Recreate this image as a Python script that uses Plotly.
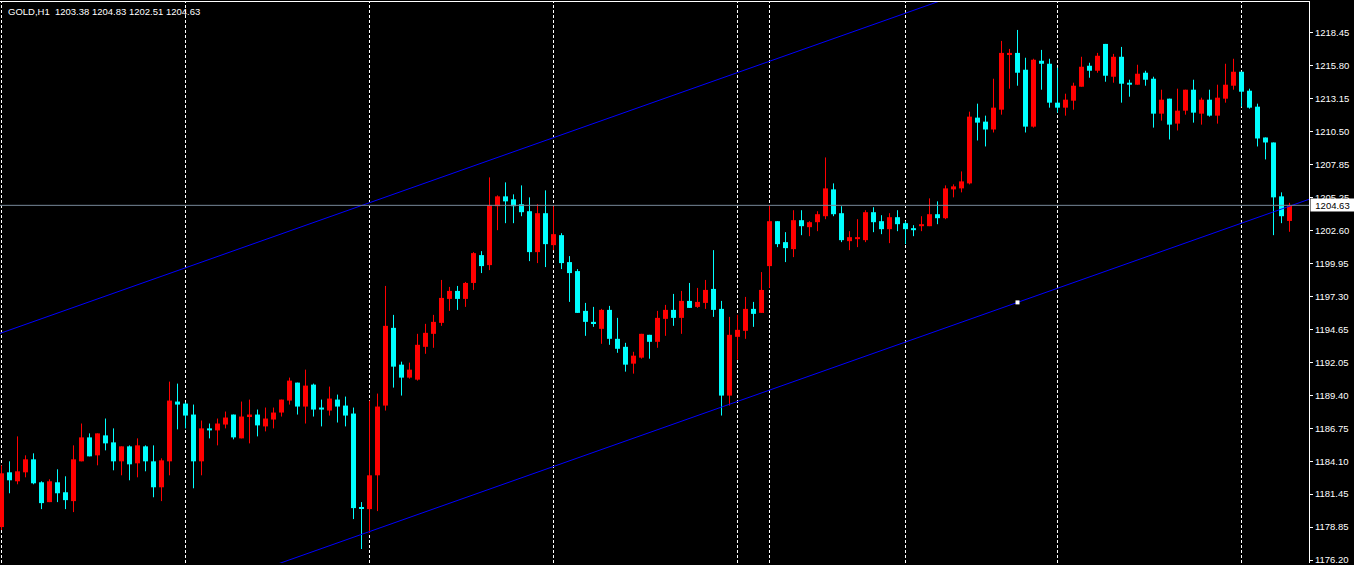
import plotly.graph_objects as go

# ---------------- data ----------------
opens = [1178.84, 1183.23, 1182.51, 1183.23, 1184.27, 1182.43, 1180.84, 1182.43, 1181.63, 1180.92,
         1184.11, 1186.03, 1184.59, 1186.19, 1185.63, 1184.11, 1185.31, 1183.95, 1185.31, 1184.11,
         1182.03, 1184.11, 1188.90, 1188.74, 1187.86, 1184.11, 1186.75, 1186.59, 1187.06, 1187.86,
         1185.95, 1187.70, 1187.86, 1186.91, 1187.46, 1188.02, 1188.98, 1190.42, 1188.50, 1190.26,
         1188.42, 1188.18, 1189.06, 1188.58, 1187.94, 1180.44, 1180.28, 1182.99, 1188.58, 1194.81,
         1191.86, 1190.82, 1190.66, 1193.29, 1194.33, 1195.21, 1197.13, 1197.77, 1197.13, 1198.41,
         1200.64, 1199.84, 1204.56, 1205.35, 1205.11, 1204.72, 1204.16, 1200.88, 1204.00, 1201.44,
         1202.24, 1200.08, 1199.36, 1196.17, 1195.29, 1194.73, 1196.25, 1193.93, 1193.29, 1191.94,
         1192.42, 1194.25, 1193.69, 1195.53, 1196.25, 1195.61, 1196.97, 1196.49, 1196.81, 1197.93,
         1196.33, 1189.38, 1194.09, 1194.57, 1196.33, 1196.01, 1199.76, 1203.36, 1201.68, 1201.12,
         1203.44, 1202.88, 1203.28, 1203.76, 1205.91, 1204.00, 1201.76, 1201.92, 1201.84, 1204.08,
         1203.36, 1202.72, 1203.68, 1203.20, 1202.80, 1202.96, 1202.96, 1203.92, 1203.60, 1205.91,
         1205.99, 1206.39, 1211.66, 1211.34, 1210.71, 1212.30, 1216.69, 1216.85, 1215.50, 1210.94,
         1216.22, 1215.98, 1212.86, 1212.46, 1213.02, 1214.14, 1215.82, 1215.42, 1217.57, 1214.94,
         1216.54, 1214.46, 1214.30, 1215.26, 1214.78, 1211.98, 1213.18, 1211.18, 1212.22, 1213.90,
         1211.98, 1213.10, 1211.82, 1213.18, 1214.22, 1215.34, 1213.82, 1212.54, 1210.07, 1209.67,
         1205.35, 1203.38]
highs = [1183.79, 1184.11, 1186.11, 1184.59, 1184.75, 1182.51, 1182.67, 1183.47, 1182.91, 1185.39,
         1187.14, 1186.35, 1186.35, 1187.54, 1186.75, 1185.31, 1185.39, 1185.95, 1185.39, 1185.39,
         1184.35, 1190.50, 1190.34, 1188.82, 1188.66, 1187.38, 1187.14, 1187.54, 1188.10, 1187.86,
         1188.90, 1189.06, 1188.26, 1188.42, 1188.42, 1189.06, 1190.82, 1190.42, 1191.46, 1190.34,
         1189.06, 1190.10, 1189.46, 1189.30, 1188.42, 1180.84, 1188.98, 1189.54, 1198.17, 1195.85,
         1192.10, 1192.02, 1194.33, 1195.13, 1195.85, 1198.65, 1198.09, 1198.17, 1198.49, 1200.88,
         1200.96, 1206.87, 1205.43, 1206.47, 1205.51, 1206.23, 1205.27, 1204.72, 1205.83, 1204.56,
         1202.40, 1200.56, 1199.52, 1196.81, 1196.49, 1196.33, 1196.57, 1195.61, 1193.61, 1192.89,
         1194.33, 1194.25, 1196.17, 1196.65, 1197.53, 1197.77, 1198.41, 1198.01, 1198.65, 1201.04,
         1196.97, 1195.69, 1195.85, 1197.29, 1196.89, 1199.28, 1204.64, 1203.36, 1202.48, 1204.24,
         1204.24, 1203.36, 1204.16, 1208.47, 1206.39, 1204.56, 1202.56, 1203.52, 1204.24, 1204.48,
         1203.84, 1204.00, 1204.24, 1203.36, 1203.04, 1203.76, 1205.19, 1204.95, 1206.23, 1206.31,
         1207.35, 1212.14, 1212.78, 1211.82, 1214.78, 1217.81, 1217.17, 1218.69, 1216.46, 1216.38,
         1217.09, 1216.38, 1215.66, 1213.58, 1214.46, 1216.54, 1216.06, 1216.85, 1217.57, 1216.77,
         1217.33, 1214.70, 1215.90, 1215.42, 1214.94, 1213.90, 1213.18, 1213.98, 1213.90, 1214.70,
         1213.26, 1213.90, 1214.30, 1215.98, 1216.38, 1215.34, 1213.98, 1212.78, 1210.07, 1209.67,
         1205.67, 1204.83]
lows = [1178.60, 1181.55, 1182.27, 1182.83, 1182.27, 1180.28, 1180.84, 1180.84, 1180.28, 1180.04,
        1184.11, 1184.51, 1183.79, 1184.99, 1183.39, 1182.99, 1182.59, 1182.83, 1183.31, 1181.23,
        1180.92, 1182.99, 1186.67, 1186.75, 1181.95, 1182.99, 1185.95, 1185.39, 1186.75, 1185.87,
        1185.95, 1185.55, 1186.11, 1186.51, 1186.75, 1187.70, 1188.66, 1187.86, 1187.14, 1187.70,
        1186.91, 1187.78, 1187.22, 1186.91, 1179.48, 1177.08, 1178.36, 1180.12, 1188.18, 1190.02,
        1189.38, 1190.74, 1190.58, 1192.73, 1193.21, 1194.97, 1196.17, 1196.25, 1196.49, 1197.85,
        1199.20, 1199.44, 1202.64, 1203.20, 1203.20, 1203.76, 1200.16, 1200.00, 1199.68, 1201.04,
        1199.52, 1196.89, 1196.01, 1194.17, 1194.89, 1193.53, 1193.45, 1192.81, 1191.30, 1191.14,
        1192.34, 1192.34, 1193.21, 1194.17, 1194.97, 1194.33, 1196.41, 1196.41, 1196.33, 1195.69,
        1187.78, 1188.58, 1192.26, 1193.93, 1194.89, 1196.01, 1198.01, 1201.28, 1200.08, 1200.48,
        1202.24, 1202.16, 1202.56, 1203.52, 1203.76, 1201.68, 1201.04, 1201.28, 1201.68, 1202.48,
        1202.32, 1201.60, 1202.56, 1201.52, 1202.16, 1202.56, 1202.96, 1203.12, 1203.52, 1205.27,
        1205.67, 1206.31, 1209.83, 1209.35, 1210.47, 1211.90, 1213.98, 1214.22, 1210.47, 1210.86,
        1213.90, 1212.46, 1212.06, 1211.82, 1212.30, 1214.14, 1214.86, 1215.26, 1214.54, 1214.46,
        1212.86, 1213.34, 1214.30, 1214.22, 1210.86, 1211.42, 1209.91, 1210.63, 1211.90, 1211.26,
        1211.10, 1211.74, 1211.18, 1212.86, 1213.90, 1212.54, 1212.38, 1209.35, 1208.31, 1202.24,
        1203.20, 1202.51]
closes = [1183.15, 1182.59, 1183.31, 1184.27, 1182.35, 1180.76, 1182.51, 1181.55, 1181.00, 1184.27,
          1186.03, 1184.51, 1186.35, 1185.55, 1184.11, 1185.31, 1183.87, 1185.39, 1184.11, 1182.03,
          1184.19, 1188.98, 1188.66, 1187.78, 1184.11, 1186.75, 1186.59, 1187.14, 1187.62, 1186.03,
          1187.70, 1187.86, 1186.99, 1187.54, 1188.02, 1189.06, 1190.58, 1188.50, 1190.18, 1188.26,
          1188.26, 1189.14, 1188.50, 1187.78, 1180.36, 1180.36, 1182.99, 1188.50, 1194.97, 1191.70,
          1190.82, 1191.46, 1193.45, 1194.41, 1195.29, 1197.21, 1197.77, 1197.13, 1198.41, 1200.80,
          1199.76, 1204.64, 1205.35, 1204.95, 1204.56, 1204.08, 1200.88, 1204.00, 1201.52, 1202.32,
          1200.00, 1199.20, 1196.01, 1195.29, 1195.13, 1196.25, 1193.93, 1193.13, 1191.86, 1192.58,
          1194.33, 1193.69, 1195.61, 1196.25, 1195.61, 1196.97, 1196.41, 1196.89, 1197.85, 1196.25,
          1189.38, 1194.25, 1194.65, 1196.33, 1195.93, 1197.85, 1203.36, 1201.52, 1201.20, 1203.44,
          1202.96, 1203.28, 1203.92, 1205.99, 1203.92, 1201.84, 1202.08, 1202.08, 1204.08, 1203.28,
          1202.72, 1203.68, 1203.12, 1202.72, 1202.64, 1203.12, 1203.92, 1203.60, 1205.99, 1206.15,
          1206.55, 1211.74, 1211.26, 1210.71, 1212.46, 1216.85, 1216.85, 1215.26, 1210.94, 1216.30,
          1215.98, 1212.86, 1212.46, 1213.10, 1214.22, 1215.74, 1215.42, 1216.62, 1215.02, 1216.54,
          1214.38, 1214.30, 1215.18, 1214.70, 1211.98, 1213.10, 1211.10, 1212.22, 1213.90, 1212.06,
          1213.10, 1211.82, 1213.26, 1214.30, 1215.34, 1213.74, 1212.46, 1209.99, 1209.67, 1205.27,
          1203.76, 1204.63]

bar_index = list(range(len(opens)))
separator_bars = [0, 23, 46, 69, 92, 96, 113, 132, 155]
y_tick_labels = ["1176.20", "1178.85", "1181.45", "1184.10", "1186.75", "1189.40", "1192.05",
                 "1194.65", "1197.30", "1199.95", "1202.60", "1205.25", "1207.85", "1210.50",
                 "1213.15", "1215.80", "1218.45"]
channel_anchor_bars = [46, 127]
channel_anchor_prices = [1178.48, 1196.85]
channel_width = 26.36
bid_price = 1204.63
header_text = "GOLD,H1  1203.38 1204.83 1202.51 1204.63"

X_RANGE = [-0.1875, 163.4375]
Y_RANGE = [1175.96, 1220.93]

UP_COLOR = "#FF0000"
DOWN_COLOR = "#00FFFF"
FONT = "Liberation Sans, Arial, sans-serif"

# ---------------- build ----------------
up = [i for i in bar_index if closes[i] >= opens[i]]
dn = [i for i in bar_index if closes[i] < opens[i]]

def wick_xy(idx):
    xs, ys = [], []
    for i in idx:
        xs += [bar_index[i], bar_index[i], None]
        ys += [highs[i], lows[i], None]
    return xs, ys

fig = go.Figure()
for idx, col in ((up, UP_COLOR), (dn, DOWN_COLOR)):
    wx, wy = wick_xy(idx)
    fig.add_trace(go.Scatter(x=wx, y=wy, mode="lines", line=dict(color=col, width=1),
                             hoverinfo="skip", showlegend=False))
for idx, col in ((up, UP_COLOR), (dn, DOWN_COLOR)):
    base = [min(opens[i], closes[i]) for i in idx]
    height = [max(abs(closes[i] - opens[i]), 0.06) for i in idx]
    fig.add_trace(go.Bar(x=[bar_index[i] for i in idx], y=height, base=base, width=0.625,
                         marker=dict(color=col, line=dict(width=0)), showlegend=False,
                         hoverinfo="skip"))

# equidistant channel (rays across the whole visible range)
slope = (channel_anchor_prices[1] - channel_anchor_prices[0]) / (channel_anchor_bars[1] - channel_anchor_bars[0])
cx = [X_RANGE[0] - 1, X_RANGE[1] + 1]
lower = [channel_anchor_prices[1] + slope * (x - channel_anchor_bars[1]) for x in cx]
upper = [v + channel_width for v in lower]
for yy in (lower, upper):
    fig.add_trace(go.Scatter(x=cx, y=yy, mode="lines", line=dict(color="#0000FF", width=1),
                             hoverinfo="skip", showlegend=False))
fig.add_trace(go.Scatter(x=[channel_anchor_bars[1]], y=[channel_anchor_prices[1]], mode="markers",
                         marker=dict(symbol="square", size=4, color="white", line=dict(width=0)),
                         hoverinfo="skip", showlegend=False))

shapes = []
for s in separator_bars:
    shapes.append(dict(type="line", xref="x", yref="paper", x0=s, x1=s, y0=0, y1=1, layer="below",
                       line=dict(color="white", width=1, dash="3px,2px")))
shapes.append(dict(type="line", xref="paper", yref="y", x0=0, x1=1, y0=bid_price, y1=bid_price,
                   layer="above", line=dict(color="#778899", width=1)))

step = (float(y_tick_labels[-1]) - float(y_tick_labels[0])) / (len(y_tick_labels) - 1)
tickvals = [float(y_tick_labels[0]) + i * step for i in range(len(y_tick_labels))]

fig.update_layout(
    width=1354, height=565,
    margin=dict(l=0, r=45, t=2, b=0, pad=0),
    paper_bgcolor="black", plot_bgcolor="black",
    barmode="overlay", showlegend=False,
    shapes=shapes,
    font=dict(family=FONT, size=9.5, color="white"),
    xaxis=dict(range=X_RANGE, side="top", showline=True, linecolor="white", linewidth=1,
               showgrid=False, zeroline=False, showticklabels=False, ticks="", fixedrange=True),
    yaxis=dict(range=Y_RANGE, side="right", showline=True, linecolor="white", linewidth=1,
               showgrid=False, zeroline=False, ticks="outside", ticklen=3, tickwidth=1,
               tickcolor="white", tickvals=tickvals, ticktext=y_tick_labels,
               ticklabeloverflow="allow",
               tickfont=dict(family=FONT, size=9.5, color="white"), fixedrange=True),
    annotations=[
        dict(text=header_text, xref="paper", yref="paper", x=0, y=1, xanchor="left", yanchor="top",
             xshift=6, yshift=-2, showarrow=False, font=dict(family=FONT, size=9.5, color="white")),
        dict(text=f"{bid_price:.2f}", xref="paper", yref="y", x=1, y=bid_price, xanchor="left",
             yanchor="middle", xshift=1, showarrow=False, bgcolor="white", borderpad=1,
             width=41, height=10, align="center", font=dict(family=FONT, size=9.5, color="black")),
    ],
)

fig.write_html("out.html", config={"displayModeBar": False},
               post_script="document.body.style.margin='0px';document.body.style.overflow='hidden';")
